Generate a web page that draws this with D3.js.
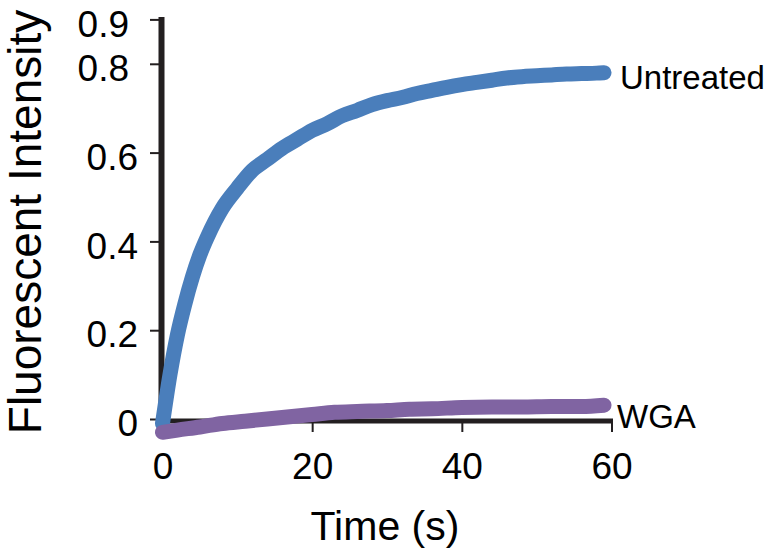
<!DOCTYPE html>
<html>
<head>
<meta charset="utf-8">
<script src="https://cdn.jsdelivr.net/npm/d3@7"></script>
<style>
  html, body { margin: 0; padding: 0; background: #fff; }
  svg { display: block; font-family: "Liberation Sans", Arial, sans-serif; }
</style>
</head>
<body>
<svg id="chart" width="778" height="557"></svg>
<script>
// ---- data ----
const untreatedTime = [0,1,2,3,4,5,6,8,10,12,14,16,18,20,22,24,26,28,30,32,34,36,38,40,42,44,46,48,50,52,54,56,58,59];
const untreatedValue = [-0.01,0.10,0.19,0.26,0.32,0.37,0.41,0.475,0.52,0.56,0.585,0.61,0.63,0.65,0.665,0.683,0.695,0.708,0.717,0.724,0.733,0.740,0.747,0.753,0.758,0.763,0.768,0.771,0.773,0.775,0.777,0.778,0.779,0.780];
const wgaTime = [0,2,5,8,11,14,17,20,23,26,30,33,36,40,44,48,52,56,59];
const wgaValue = [-0.030,-0.025,-0.018,-0.010,-0.005,0.000,0.005,0.010,0.015,0.017,0.019,0.022,0.023,0.026,0.027,0.027,0.028,0.028,0.031];
const xTicks = [0,20,40,60];
const yTicks = [0,0.2,0.4,0.6,0.8,0.9];
const seriesNames = ["Untreated","WGA"];
const seriesColors = ["#4a7ebb","#8064a2"];

const svg = d3.select("#chart");
const x = d3.scaleLinear().domain([0,60]).range([162.5,611.5]);
const y = d3.scaleLinear().domain([0,0.9]).range([419,19.4]);

// axis lines (thick)
svg.append("line").attr("x1",161.5).attr("x2",161.5).attr("y1",17).attr("y2",423)
  .attr("stroke","#231f20").attr("stroke-width",6);
svg.append("line").attr("x1",158.5).attr("x2",613).attr("y1",421).attr("y2",421)
  .attr("stroke","#231f20").attr("stroke-width",5);

// y axis ticks
const yAxis = d3.axisLeft(y).tickValues(yTicks).tickSize(11).tickPadding(12)
  .tickFormat(d => d === 0 ? "0" : d3.format(".1f")(d));
const gy = svg.append("g").attr("transform","translate(161,0)").call(yAxis);
gy.select(".domain").remove();
gy.selectAll(".tick line").attr("stroke","#231f20").attr("stroke-width",2);
gy.selectAll(".tick text").attr("font-size",37).attr("fill","#000")
  .attr("font-family","'Liberation Sans', Arial, sans-serif")
  .attr("dy","0.45em")
  .attr("x", d => d >= 0.8 ? -32 : -23);

// x axis ticks
const xAxis = d3.axisBottom(x).tickValues(xTicks).tickSize(11).tickPadding(21);
const gx = svg.append("g").attr("transform","translate(0,421)").call(xAxis);
gx.select(".domain").remove();
gx.selectAll(".tick line").attr("stroke","#231f20").attr("stroke-width",2);
gx.selectAll(".tick text").attr("font-size",37).attr("fill","#000")
  .attr("font-family","'Liberation Sans', Arial, sans-serif");

// lines
const line = d3.line().x(d => x(d[0])).y(d => y(d[1])).curve(d3.curveMonotoneX);
const series = [
  d3.zip(untreatedTime, untreatedValue),
  d3.zip(wgaTime, wgaValue)
];
series.forEach((s, i) => {
  svg.append("path").datum(s).attr("d", line)
    .attr("fill","none").attr("stroke", seriesColors[i])
    .attr("stroke-width", 15)
    .attr("stroke-linecap","round").attr("stroke-linejoin","round");
});

// series labels
svg.append("text").attr("x",620).attr("y",89).attr("font-size",33).attr("fill","#000")
  .text(seriesNames[0]);
svg.append("text").attr("x",617).attr("y",428).attr("font-size",33).attr("fill","#000")
  .text(seriesNames[1]);

// axis titles
svg.append("text").attr("x",385).attr("y",540).attr("text-anchor","middle")
  .attr("font-size",41).attr("fill","#000").text("Time (s)");
svg.append("text").attr("transform","translate(41,222) rotate(-90)")
  .attr("text-anchor","middle").attr("font-size",46).attr("fill","#000")
  .text("Fluorescent Intensity");
</script>
</body>
</html>
